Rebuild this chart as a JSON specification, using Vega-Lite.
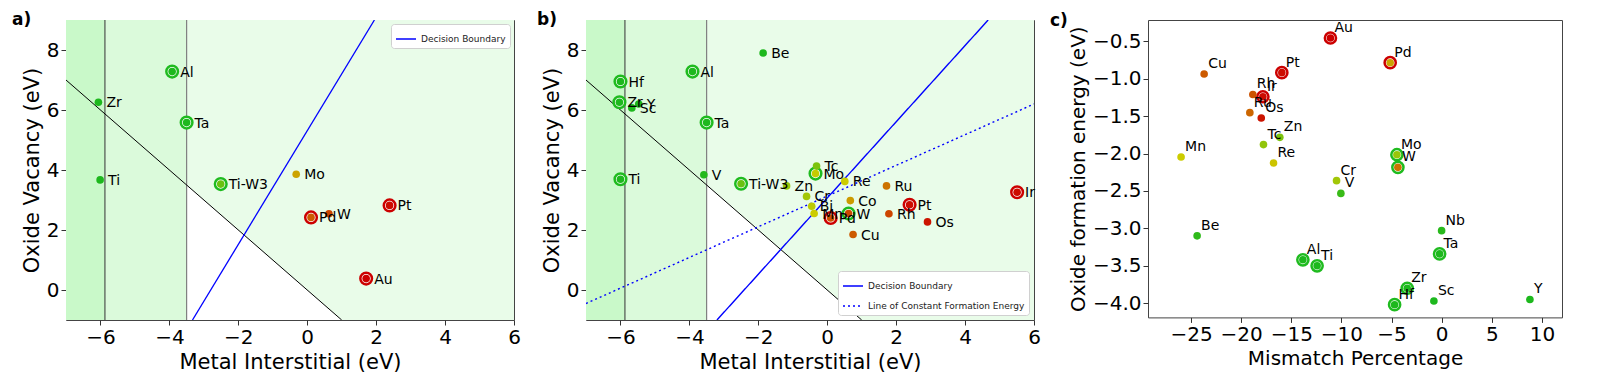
{
  "$schema": "https://vega.github.io/schema/vega-lite/v6.json",
  "padding": {"left": 11, "top": 10, "right": 0, "bottom": 0},
  "background": "white",
  "config": {
    "font": "DejaVu Sans",
    "view": {"stroke": "#444", "strokeWidth": 1},
    "axis": {"labelFontSize": 20, "titleFontSize": 21, "labelColor": "black", "titleColor": "black", "titleFontWeight": "normal", "tickColor": "#333", "tickSize": 5, "domain": false, "grid": false, "labelFlush": false, "labelOverlap": false, "labelPadding": 2, "titlePadding": 4},
    "legend": {"fillColor": "white", "strokeColor": "#d0d0d0", "cornerRadius": 3, "padding": 4, "labelFontSize": 9, "labelColor": "#222", "symbolType": "stroke", "symbolSize": 400, "symbolStrokeWidth": 1.5, "offset": 4, "rowPadding": 4},
    "title": {"anchor": "start", "frame": "group", "fontSize": 17, "fontWeight": "bold", "color": "black"}
  },
  "datasets": {
    "zones": [
      {"zone": "core", "x1": -7, "x2": -5.87, "y1": -1, "y2": 9},
      {"zone": "inner", "x1": -5.87, "x2": -3.5, "y1": -1, "y2": 9}
    ],
    "light": [
      {"x": -3.5, "top": 9, "bottom": 3.5},
      {"x": 1, "top": 9, "bottom": -1},
      {"x": 6, "top": 9, "bottom": -1}
    ],
    "cuts": [
      {"cut": "first", "x": -5.87},
      {"cut": "second", "x": -3.5}
    ],
    "diag": [
      {"x": -7, "y": 7},
      {"x": 1, "y": -1}
    ],
    "linesA": [
      {"line": "Decision Boundary", "x": -3.33, "y": -1},
      {"line": "Decision Boundary", "x": 1.95, "y": 9}
    ],
    "linesB": [
      {"line": "Decision Boundary", "x": -3.2, "y": -1},
      {"line": "Decision Boundary", "x": 4.67, "y": 9},
      {"line": "Line of Constant Formation Energy", "x": -7, "y": -0.45},
      {"line": "Line of Constant Formation Energy", "x": 6, "y": 6.2}
    ],
    "pointsA": [
      {"name": "Al", "x": -3.92, "y": 7.28, "score": 0, "ring": "good"},
      {"name": "Zr", "x": -6.06, "y": 6.26, "score": 0, "ring": "none"},
      {"name": "Ta", "x": -3.5, "y": 5.58, "score": 0, "ring": "good"},
      {"name": "Ti", "x": -6.01, "y": 3.67, "score": 0, "ring": "none"},
      {"name": "Ti-W3", "x": -2.51, "y": 3.53, "score": 0.22, "ring": "good"},
      {"name": "Mo", "x": -0.32, "y": 3.86, "score": 0.6, "ring": "none"},
      {"name": "Pd", "x": 0.11, "y": 2.42, "score": 0.78, "ring": "bad"},
      {"name": "W", "x": 0.63, "y": 2.54, "score": 0.83, "ring": "none"},
      {"name": "Pt", "x": 2.39, "y": 2.82, "score": 0.97, "ring": "bad"},
      {"name": "Au", "x": 1.71, "y": 0.38, "score": 1, "ring": "bad"}
    ],
    "pointsB": [
      {"name": "Be", "x": -1.86, "y": 7.9, "score": 0, "ring": "none"},
      {"name": "Al", "x": -3.91, "y": 7.28, "score": 0, "ring": "good"},
      {"name": "Hf", "x": -6.0, "y": 6.95, "score": 0, "ring": "good"},
      {"name": "Zr", "x": -6.03, "y": 6.26, "score": 0, "ring": "good"},
      {"name": "Y", "x": -5.47, "y": 6.2, "score": 0, "ring": "none"},
      {"name": "Sc", "x": -5.67, "y": 6.07, "score": 0, "ring": "none"},
      {"name": "Ta", "x": -3.5, "y": 5.58, "score": 0, "ring": "good"},
      {"name": "Ti", "x": -6.0, "y": 3.69, "score": 0, "ring": "good"},
      {"name": "V", "x": -3.58, "y": 3.84, "score": 0.02, "ring": "none"},
      {"name": "Ti-W3", "x": -2.5, "y": 3.54, "score": 0.22, "ring": "good"},
      {"name": "Zn", "x": -1.18, "y": 3.47, "score": 0.35, "ring": "none"},
      {"name": "Tc", "x": -0.31, "y": 4.13, "score": 0.27, "ring": "none"},
      {"name": "Mo", "x": -0.34, "y": 3.88, "score": 0.48, "ring": "good"},
      {"name": "Re", "x": 0.51, "y": 3.62, "score": 0.5, "ring": "none"},
      {"name": "Cr", "x": -0.6, "y": 3.12, "score": 0.38, "ring": "none"},
      {"name": "Bi", "x": -0.45, "y": 2.79, "score": 0.45, "ring": "none"},
      {"name": "Mn", "x": -0.38, "y": 2.55, "score": 0.5, "ring": "none"},
      {"name": "Pd", "x": 0.1, "y": 2.4, "score": 0.8, "ring": "bad"},
      {"name": "W", "x": 0.62, "y": 2.55, "score": 0.82, "ring": "good"},
      {"name": "Co", "x": 0.67, "y": 2.98, "score": 0.62, "ring": "none"},
      {"name": "Cu", "x": 0.75, "y": 1.85, "score": 0.78, "ring": "none"},
      {"name": "Ru", "x": 1.72, "y": 3.47, "score": 0.72, "ring": "none"},
      {"name": "Rh", "x": 1.79, "y": 2.54, "score": 0.83, "ring": "none"},
      {"name": "Pt", "x": 2.39, "y": 2.84, "score": 0.97, "ring": "bad"},
      {"name": "Os", "x": 2.91, "y": 2.27, "score": 0.95, "ring": "none"},
      {"name": "Ir", "x": 5.51, "y": 3.26, "score": 0.97, "ring": "bad"},
      {"name": "Au", "x": 1.7, "y": 0.39, "score": 1, "ring": "bad"}
    ],
    "pointsC": [
      {"name": "Au", "x": -11.1, "y": -0.455, "score": 1, "ring": "bad"},
      {"name": "Pd", "x": -5.14, "y": -0.785, "score": 0.6, "ring": "bad"},
      {"name": "Pt", "x": -15.95, "y": -0.918, "score": 0.97, "ring": "bad"},
      {"name": "Cu", "x": -23.7, "y": -0.936, "score": 0.78, "ring": "none"},
      {"name": "Rh", "x": -18.84, "y": -1.21, "score": 0.8, "ring": "none"},
      {"name": "Ir", "x": -17.84, "y": -1.24, "score": 0.97, "ring": "bad"},
      {"name": "Ru", "x": -19.14, "y": -1.453, "score": 0.75, "ring": "none"},
      {"name": "Os", "x": -18.0, "y": -1.524, "score": 0.95, "ring": "none"},
      {"name": "Zn", "x": -16.15, "y": -1.783, "score": 0.27, "ring": "none"},
      {"name": "Tc", "x": -17.78, "y": -1.88, "score": 0.33, "ring": "none"},
      {"name": "Mn", "x": -26.0, "y": -2.046, "score": 0.5, "ring": "none"},
      {"name": "Re", "x": -16.78, "y": -2.126, "score": 0.52, "ring": "none"},
      {"name": "Mo", "x": -4.47, "y": -2.015, "score": 0.35, "ring": "good"},
      {"name": "W", "x": -4.37, "y": -2.184, "score": 0.72, "ring": "good"},
      {"name": "Cr", "x": -10.49, "y": -2.362, "score": 0.38, "ring": "none"},
      {"name": "V", "x": -10.06, "y": -2.532, "score": 0.08, "ring": "none"},
      {"name": "Be", "x": -24.4, "y": -3.1, "score": 0.05, "ring": "none"},
      {"name": "Nb", "x": -0.01, "y": -3.03, "score": 0.03, "ring": "none"},
      {"name": "Ta", "x": -0.21, "y": -3.34, "score": 0, "ring": "good"},
      {"name": "Al", "x": -13.85, "y": -3.42, "score": 0, "ring": "good"},
      {"name": "Ti", "x": -12.43, "y": -3.5, "score": 0, "ring": "good"},
      {"name": "Zr", "x": -3.44, "y": -3.8, "score": 0, "ring": "good"},
      {"name": "Hf", "x": -4.7, "y": -4.02, "score": 0, "ring": "good"},
      {"name": "Sc", "x": -0.78, "y": -3.97, "score": 0, "ring": "none"},
      {"name": "Y", "x": 8.8, "y": -3.95, "score": 0, "ring": "none"}
    ]
  },
  "resolve": {"scale": {"color": "independent", "strokeDash": "independent"}, "legend": {"color": "independent", "strokeDash": "independent"}},
  "hconcat": [
    {
      "spacing": 15,
      "resolve": {"scale": {"color": "independent", "strokeDash": "independent"}, "legend": {"color": "independent", "strokeDash": "independent"}},
      "hconcat": [
        {
          "width": 448, "height": 300,
          "title": {"text": "a)", "dx": -54, "dy": 10, "offset": 0},
          "encoding": {
            "x": {"type": "quantitative", "scale": {"domain": [-7, 6], "nice": false, "zero": false}, "axis": {"values": [-6, -4, -2, 0, 2, 4, 6], "title": "Metal Interstitial (eV)"}},
            "y": {"type": "quantitative", "scale": {"domain": [-1, 9], "nice": false, "zero": false}, "axis": {"values": [0, 2, 4, 6, 8], "title": "Oxide Vacancy (eV)"}}
          },
          "layer": [
            {"data": {"name": "zones"}, "transform": [{"filter": "datum.zone == 'core'"}], "mark": {"type": "rect", "fill": "#c9f9c9"}, "encoding": {"x": {"field": "x1", "type": "quantitative"}, "x2": {"field": "x2"}, "y": {"field": "y1", "type": "quantitative"}, "y2": {"field": "y2"}}},
            {"data": {"name": "zones"}, "transform": [{"filter": "datum.zone == 'inner'"}], "mark": {"type": "rect", "fill": "#dbfadb"}, "encoding": {"x": {"field": "x1", "type": "quantitative"}, "x2": {"field": "x2"}, "y": {"field": "y1", "type": "quantitative"}, "y2": {"field": "y2"}}},
            {"data": {"name": "light"}, "mark": {"type": "area", "fill": "#e9fce9"}, "encoding": {"x": {"field": "x", "type": "quantitative"}, "y": {"field": "top", "type": "quantitative"}, "y2": {"field": "bottom"}}},
            {"data": {"name": "cuts"}, "transform": [{"filter": "datum.cut == 'first'"}], "mark": {"type": "rule", "color": "#333", "strokeWidth": 1}, "encoding": {"x": {"field": "x", "type": "quantitative"}}},
            {"data": {"name": "cuts"}, "transform": [{"filter": "datum.cut == 'second'"}], "mark": {"type": "rule", "color": "#808080", "strokeWidth": 1.2}, "encoding": {"x": {"field": "x", "type": "quantitative"}}},
            {"data": {"name": "diag"}, "mark": {"type": "line", "color": "black", "strokeWidth": 1, "clip": true}, "encoding": {"x": {"field": "x", "type": "quantitative"}, "y": {"field": "y", "type": "quantitative"}}},
            {"data": {"name": "linesA"}, "mark": {"type": "line", "strokeWidth": 1.3, "clip": true}, "encoding": {"x": {"field": "x", "type": "quantitative"}, "y": {"field": "y", "type": "quantitative"}, "color": {"field": "line", "type": "nominal", "scale": {"domain": ["Decision Boundary"], "range": ["#0000ff"]}, "legend": {"title": null, "orient": "top-right"}}}},
            {"data": {"name": "pointsA"}, "transform": [{"filter": "datum.ring == 'good'"}], "mark": {"type": "circle", "size": 135, "fill": "white", "opacity": 1, "stroke": "#1fbb1f", "strokeWidth": 2.5}, "encoding": {"x": {"field": "x", "type": "quantitative"}, "y": {"field": "y", "type": "quantitative"}}},
            {"data": {"name": "pointsA"}, "transform": [{"filter": "datum.ring == 'bad'"}], "mark": {"type": "circle", "size": 135, "fill": "white", "opacity": 1, "stroke": "#cc0000", "strokeWidth": 2.5}, "encoding": {"x": {"field": "x", "type": "quantitative"}, "y": {"field": "y", "type": "quantitative"}}},
            {"data": {"name": "pointsA"}, "mark": {"type": "circle", "size": 58, "opacity": 1}, "encoding": {"x": {"field": "x", "type": "quantitative"}, "y": {"field": "y", "type": "quantitative"}, "fill": {"field": "score", "type": "quantitative", "scale": {"domain": [0, 0.5, 1], "range": ["#1db81d", "#cccc00", "#cc0000"], "interpolate": "rgb"}, "legend": null}}},
            {"data": {"name": "pointsA"}, "mark": {"type": "text", "align": "left", "baseline": "middle", "dx": 8, "dy": 1, "fontSize": 14, "color": "black"}, "encoding": {"x": {"field": "x", "type": "quantitative"}, "y": {"field": "y", "type": "quantitative"}, "text": {"field": "name"}}}
          ]
        },
        {
          "width": 448, "height": 300,
          "title": {"text": "b)", "dx": -49, "dy": 10, "offset": 0},
          "encoding": {
            "x": {"type": "quantitative", "scale": {"domain": [-7, 6], "nice": false, "zero": false}, "axis": {"values": [-6, -4, -2, 0, 2, 4, 6], "title": "Metal Interstitial (eV)"}},
            "y": {"type": "quantitative", "scale": {"domain": [-1, 9], "nice": false, "zero": false}, "axis": {"values": [0, 2, 4, 6, 8], "title": "Oxide Vacancy (eV)"}}
          },
          "layer": [
            {"data": {"name": "zones"}, "transform": [{"filter": "datum.zone == 'core'"}], "mark": {"type": "rect", "fill": "#c9f9c9"}, "encoding": {"x": {"field": "x1", "type": "quantitative"}, "x2": {"field": "x2"}, "y": {"field": "y1", "type": "quantitative"}, "y2": {"field": "y2"}}},
            {"data": {"name": "zones"}, "transform": [{"filter": "datum.zone == 'inner'"}], "mark": {"type": "rect", "fill": "#dbfadb"}, "encoding": {"x": {"field": "x1", "type": "quantitative"}, "x2": {"field": "x2"}, "y": {"field": "y1", "type": "quantitative"}, "y2": {"field": "y2"}}},
            {"data": {"name": "light"}, "mark": {"type": "area", "fill": "#e9fce9"}, "encoding": {"x": {"field": "x", "type": "quantitative"}, "y": {"field": "top", "type": "quantitative"}, "y2": {"field": "bottom"}}},
            {"data": {"name": "cuts"}, "transform": [{"filter": "datum.cut == 'first'"}], "mark": {"type": "rule", "color": "#333", "strokeWidth": 1}, "encoding": {"x": {"field": "x", "type": "quantitative"}}},
            {"data": {"name": "cuts"}, "transform": [{"filter": "datum.cut == 'second'"}], "mark": {"type": "rule", "color": "#808080", "strokeWidth": 1.2}, "encoding": {"x": {"field": "x", "type": "quantitative"}}},
            {"data": {"name": "diag"}, "mark": {"type": "line", "color": "black", "strokeWidth": 1, "clip": true}, "encoding": {"x": {"field": "x", "type": "quantitative"}, "y": {"field": "y", "type": "quantitative"}}},
            {"data": {"name": "linesB"}, "mark": {"type": "line", "strokeWidth": 1.4, "clip": true}, "encoding": {"x": {"field": "x", "type": "quantitative"}, "y": {"field": "y", "type": "quantitative"}, "color": {"field": "line", "type": "nominal", "scale": {"domain": ["Decision Boundary", "Line of Constant Formation Energy"], "range": ["#0000ff", "#0000ff"]}, "legend": {"title": null, "orient": "bottom-right", "offset": 5}}, "strokeDash": {"field": "line", "type": "nominal", "scale": {"domain": ["Decision Boundary", "Line of Constant Formation Energy"], "range": [[1, 0], [2, 3]]}, "legend": {"title": null, "orient": "bottom-right", "offset": 5}}}},
            {"data": {"name": "pointsB"}, "transform": [{"filter": "datum.ring == 'good'"}], "mark": {"type": "circle", "size": 135, "fill": "white", "opacity": 1, "stroke": "#1fbb1f", "strokeWidth": 2.5}, "encoding": {"x": {"field": "x", "type": "quantitative"}, "y": {"field": "y", "type": "quantitative"}}},
            {"data": {"name": "pointsB"}, "transform": [{"filter": "datum.ring == 'bad'"}], "mark": {"type": "circle", "size": 135, "fill": "white", "opacity": 1, "stroke": "#cc0000", "strokeWidth": 2.5}, "encoding": {"x": {"field": "x", "type": "quantitative"}, "y": {"field": "y", "type": "quantitative"}}},
            {"data": {"name": "pointsB"}, "mark": {"type": "circle", "size": 58, "opacity": 1}, "encoding": {"x": {"field": "x", "type": "quantitative"}, "y": {"field": "y", "type": "quantitative"}, "fill": {"field": "score", "type": "quantitative", "scale": {"domain": [0, 0.5, 1], "range": ["#1db81d", "#cccc00", "#cc0000"], "interpolate": "rgb"}, "legend": null}}},
            {"data": {"name": "pointsB"}, "mark": {"type": "text", "align": "left", "baseline": "middle", "dx": 8, "dy": 1, "fontSize": 14, "color": "black"}, "encoding": {"x": {"field": "x", "type": "quantitative"}, "y": {"field": "y", "type": "quantitative"}, "text": {"field": "name"}}}
          ]
        }
      ]
    },
    {
      "width": 414, "height": 297.4,
      "title": {"text": "c)", "dx": -98, "dy": 10, "offset": 0},
      "data": {"name": "pointsC"},
      "encoding": {
        "x": {"field": "x", "type": "quantitative", "scale": {"domain": [-29.3, 12], "nice": false, "zero": false}, "axis": {"values": [-25, -20, -15, -10, -5, 0, 5, 10], "title": "Mismatch Percentage", "titleFontSize": 20}},
        "y": {"field": "y", "type": "quantitative", "scale": {"domain": [-4.19, -0.214], "nice": false, "zero": false}, "axis": {"values": [-4, -3.5, -3, -2.5, -2, -1.5, -1, -0.5], "format": ".1f", "title": "Oxide formation energy (eV)", "titleFontSize": 20}}
      },
      "layer": [
        {"transform": [{"filter": "datum.ring == 'good'"}], "mark": {"type": "circle", "size": 125, "fill": "white", "opacity": 1, "stroke": "#1fbb1f", "strokeWidth": 2.5}},
        {"transform": [{"filter": "datum.ring == 'bad'"}], "mark": {"type": "circle", "size": 125, "fill": "white", "opacity": 1, "stroke": "#cc0000", "strokeWidth": 2.5}},
        {"mark": {"type": "circle", "size": 58, "opacity": 1}, "encoding": {"fill": {"field": "score", "type": "quantitative", "scale": {"domain": [0, 0.5, 1], "range": ["#1db81d", "#cccc00", "#cc0000"], "interpolate": "rgb"}, "legend": null}}},
        {"mark": {"type": "text", "align": "left", "baseline": "alphabetic", "dx": 4, "dy": -6, "fontSize": 14, "color": "black"}, "encoding": {"text": {"field": "name"}}}
      ]
    }
  ],
  "spacing": 8
}
